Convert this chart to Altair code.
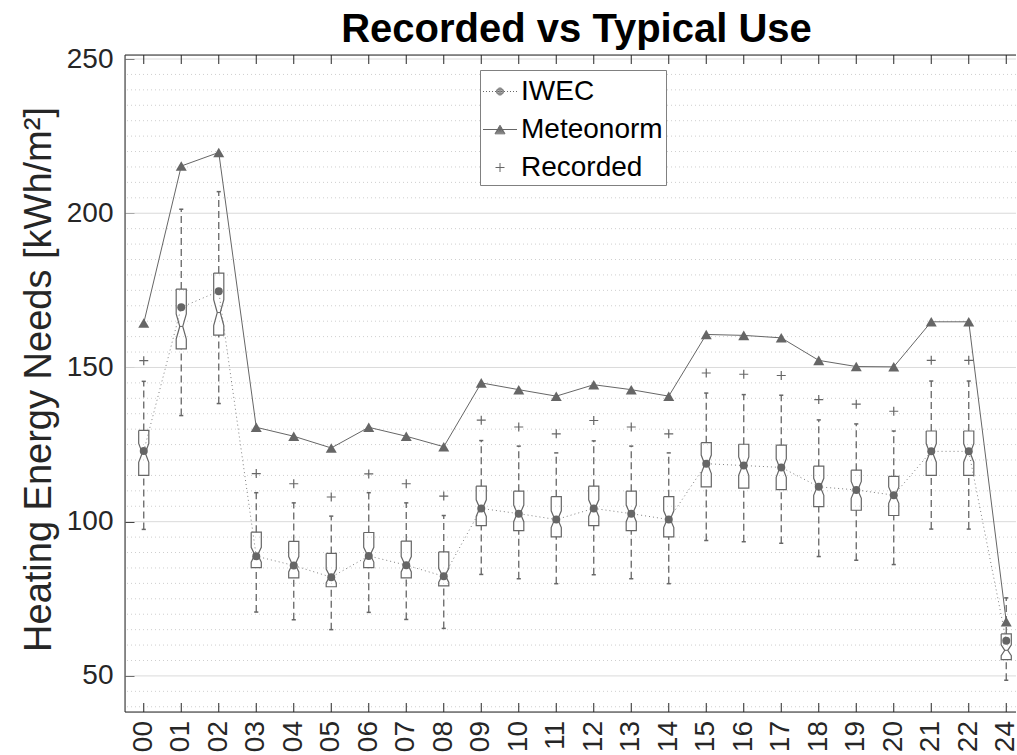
import altair as alt
import pandas as pd
import numpy as np

# ---------------- data ----------------
categories = ["00", "01", "02", "03", "04", "05", "06", "07", "08", "09", "10", "11",
              "12", "13", "14", "15", "16", "17", "18", "19", "20", "21", "22", "24"]

iwec = [122.9, 169.5, 174.7, 88.8, 85.8, 82.0, 88.9, 85.9, 82.3, 104.3, 102.6, 100.7,
        104.3, 102.6, 100.7, 118.8, 118.2, 117.6, 111.3, 110.3, 108.6, 122.8, 122.8, 61.4]
meteonorm = [164.4, 215.3, 219.7, 130.6, 127.7, 123.9, 130.6, 127.7, 124.3, 145.0, 142.8, 140.7,
             144.4, 142.8, 140.7, 160.7, 160.4, 159.6, 152.3, 150.3, 150.2, 164.8, 164.8, 67.6]

rec_q1 = [115.0, 156.0, 160.5, 85.1, 81.8, 78.9, 85.1, 81.8, 79.2, 98.7, 97.1, 95.1,
          98.7, 97.1, 95.1, 111.3, 110.9, 110.4, 104.9, 103.7, 102.0, 115.0, 115.0, 55.3]
rec_med = [122.3, 163.3, 167.8, 89.3, 86.2, 82.4, 89.3, 86.2, 82.6, 104.4, 102.7, 100.8,
           104.4, 102.7, 100.8, 118.6, 118.0, 117.4, 111.3, 110.3, 108.6, 122.3, 122.3, 58.3]
rec_q3 = [129.6, 175.4, 180.6, 96.6, 93.6, 89.7, 96.5, 93.7, 90.2, 111.5, 109.9, 108.1,
          111.5, 109.9, 108.1, 125.6, 125.1, 124.8, 118.0, 116.7, 114.7, 129.4, 129.4, 63.6]
rec_lo = [97.5, 134.4, 138.3, 70.7, 68.2, 65.0, 70.6, 68.3, 65.4, 82.9, 81.5, 79.9,
          82.8, 81.5, 79.9, 93.9, 93.5, 93.0, 88.7, 87.5, 86.1, 97.6, 97.6, 48.6]
rec_hi = [145.5, 201.3, 207.0, 109.4, 106.1, 101.8, 109.4, 106.1, 102.0, 126.3, 124.5, 122.3,
          126.2, 124.5, 122.3, 141.7, 141.2, 141.0, 133.0, 131.7, 129.4, 145.6, 145.6, 75.3]
rec_out = [152.2, None, None, 115.6, 112.3, 108.0, 115.5, 112.3, 108.3, 132.9, 130.7, 128.5,
           132.8, 130.7, 128.5, 148.2, 147.8, 147.4, 139.6, 138.1, 135.8, 152.3, 152.3, None]
n_years = 56  # sample size behind each notch (1.57*IQR/sqrt(n))

y_ticks = [50, 100, 150, 200, 250]
series_names = ["IWEC", "Meteonorm", "Recorded"]

# ---------------- layout / style ----------------
W, H = 891, 657
GREY = "#666666"
AXC = "#262626"
FONT = "Liberation Sans"
HW, NW, CW = 0.135, 0.04, 0.055  # box half width, notch waist, cap half width (x units)

x_scale = alt.Scale(domain=[-0.5, 23.26], nice=False, zero=False)
y_scale = alt.Scale(domain=[38.3, 251.3], nice=False, zero=False)

idx = list(range(len(categories)))
stats = pd.DataFrame({"i": idx, "cat": categories, "q1": rec_q1, "med": rec_med, "q3": rec_q3,
                      "lo": rec_lo, "hi": rec_hi, "iwec": iwec, "met": meteonorm})
stats["cl"] = stats["i"] - CW
stats["cr"] = stats["i"] + CW
stats["ml"] = stats["i"] - NW
stats["mr"] = stats["i"] + NW

# notched box outlines
rows = []
for i, c in enumerate(categories):
    q1, md, q3 = rec_q1[i], rec_med[i], rec_q3[i]
    notch = 1.57 * (q3 - q1) / np.sqrt(n_years)
    nh, nl = min(md + notch, q3), max(md - notch, q1)
    pts = [(-HW, q3), (HW, q3), (HW, nh), (NW, md), (HW, nl), (HW, q1), (-HW, q1),
           (-HW, nl), (-NW, md), (-HW, nh), (-HW, q3)]
    for k, (dx, yy) in enumerate(pts):
        rows.append({"cat": c, "k": k, "x": i + dx, "y": yy})
box_df = pd.DataFrame(rows)

out_df = pd.DataFrame({"i": idx, "v": rec_out}).dropna()

minor = [v for v in range(40, 251, 5) if v % 50]
minor_df = pd.DataFrame({"v": minor})
major_df = pd.DataFrame({"v": y_ticks})

# no axis argument on ordinary layers: explicit settings of the axes layer win the merge
X = lambda f: alt.X(f, scale=x_scale)
Y = lambda f: alt.Y(f, scale=y_scale)

x_axis = alt.Axis(labels=False, ticks=False, domain=False, grid=False, title=None)
y_axis = alt.Axis(values=y_ticks, labelFontSize=28, labelFont=FONT, labelColor=AXC,
                  labelPadding=12, tickSize=9, offset=-9, tickColor=AXC, tickWidth=1,
                  labelOverlap=False, domain=False, grid=False,
                  title="Heating Energy Needs [kWh/m²]",
                  titleFont=FONT, titleFontSize=38, titleFontWeight="normal",
                  titleColor=AXC, titleAngle=270, titleAlign="center",
                  titleBaseline="alphabetic", titleX=-84, titleY=324)
axes_layer = alt.Chart(stats).mark_point(opacity=0, size=1).encode(
    x=alt.X("i:Q", scale=x_scale, axis=x_axis),
    y=alt.Y("iwec:Q", scale=y_scale, axis=y_axis))

# grid
g_minor = alt.Chart(minor_df).mark_rule(color="#cfcfcf", strokeWidth=1, strokeDash=[1, 3]).encode(y=Y("v:Q"))
g_major = alt.Chart(major_df).mark_rule(color="#dadada", strokeWidth=1).encode(y=Y("v:Q"))

# boxes
boxes = alt.Chart(box_df).mark_line(color=GREY, strokeWidth=1.2).encode(
    x=X("x:Q"), y=Y("y:Q"), detail="cat:N", order="k:Q")

base = alt.Chart(stats)
wh_up = base.mark_rule(color=GREY, strokeWidth=1.3, strokeDash=[7, 4]).encode(x=X("i:Q"), y=Y("q3:Q"), y2="hi:Q")
wh_dn = base.mark_rule(color=GREY, strokeWidth=1.3, strokeDash=[7, 4]).encode(x=X("i:Q"), y=Y("lo:Q"), y2="q1:Q")
cap_up = base.mark_rule(color=GREY, strokeWidth=1.5).encode(x=X("cl:Q"), x2="cr:Q", y=Y("hi:Q"))
cap_dn = base.mark_rule(color=GREY, strokeWidth=1.5).encode(x=X("cl:Q"), x2="cr:Q", y=Y("lo:Q"))
med_ln = base.mark_rule(color=GREY, strokeWidth=1).encode(x=X("ml:Q"), x2="mr:Q", y=Y("med:Q"))

outl = alt.Chart(out_df).mark_point(shape="M-1,0H1M0,-1V1", size=81, filled=False,
                                    color=GREY, strokeWidth=1.2, opacity=1).encode(x=X("i:Q"), y=Y("v:Q"))

met_line = base.mark_line(color=GREY, strokeWidth=1).encode(x=X("i:Q"), y=Y("met:Q"))
met_pts = base.mark_point(shape="triangle-up", size=121, filled=True, color=GREY, opacity=1).encode(x=X("i:Q"), y=Y("met:Q"))
iw_line = base.mark_line(color="#808080", strokeWidth=1, strokeDash=[1, 3]).encode(x=X("i:Q"), y=Y("iwec:Q"))
iw_pts = base.mark_point(shape="circle", size=64, filled=True, color=GREY, opacity=1).encode(x=X("i:Q"), y=Y("iwec:Q"))

# frame, inward ticks on top and bottom, category labels
one = pd.DataFrame({"a": [0]})
f_top = alt.Chart(one).mark_rule(color=AXC, strokeWidth=1).encode(y=alt.value(0))
f_bot = alt.Chart(one).mark_rule(color=AXC, strokeWidth=1).encode(y=alt.value(H))
f_left = alt.Chart(one).mark_rule(color=AXC, strokeWidth=1).encode(x=alt.value(0))
top_ticks = base.mark_rule(color=AXC, strokeWidth=1).encode(x=X("i:Q"), y=alt.value(0), y2=alt.value(9))
bot_ticks = base.mark_rule(color=AXC, strokeWidth=1).encode(x=X("i:Q"), y=alt.value(H - 9), y2=alt.value(H))
x_labels = base.mark_text(angle=270, align="right", baseline="middle", font=FONT, fontSize=28,
                          color=AXC).encode(x=X("i:Q"), y=alt.value(H + 9), text="cat:N")

# legend (stroke-only symbols: line + marker, markers filled by nested outlines)
u = 18.0
def dotted(x0, x1, step=3.0, dash=1.0):
    s = ""
    x = x0
    while x < x1:
        s += "M%.3f,0H%.3f" % (x / u, min(x + dash, x1) / u)
        x += step
    return s
mx = -1.5 / u
def disk(rpx):
    s = ""
    for rr in [rpx - 0.5, rpx - 1.5, rpx - 2.5, 0.6]:
        r = rr / u
        s += "M%.3f,0A%.3f,%.3f 0 1,1 %.3f,0A%.3f,%.3f 0 1,1 %.3f,0Z" % (mx + r, r, r, mx - r, r, r, mx + r)
    return s
def tri(hw_px, hh_px):
    s = ""
    for f in [1.0, 0.75, 0.5, 0.25]:
        a, b = hw_px * f / u, hh_px * f / u
        s += "M%.3f,%.3fL%.3f,%.3fL%.3f,%.3fZ" % (mx, -b, mx + a, b, mx - a, b)
    return s
p_iwec = dotted(-18.5, 15.5) + disk(4.0)
p_met = "M%.3f,0H%.3f" % (-18.5 / u, 15.5 / u) + tri(5.0, 4.3)
pr = 4.5 / u
p_rec = "M%.3f,0H%.3fM%.3f,%.3fV%.3f" % (mx - pr, mx + pr, mx, -pr, pr)

leg_df = pd.DataFrame({"series": series_names, "lx": [None] * 3, "ly": [None] * 3})
legend_layer = alt.Chart(leg_df).mark_point(filled=False, color=GREY, strokeWidth=1, opacity=1).encode(
    x=X("lx:Q"), y=Y("ly:Q"),
    shape=alt.Shape("series:N", scale=alt.Scale(domain=series_names, range=[p_iwec, p_met, p_rec]),
                    legend=alt.Legend(title=None, orient="none", legendX=355, legendY=15,
                                      symbolSize=1296, padding=3, rowPadding=5,
                                      labelFontSize=28, labelFont=FONT, labelColor="black",
                                      labelOffset=1, strokeColor="#808080", fillColor="white",
                                      symbolStrokeColor=GREY, symbolStrokeWidth=1)))

chart = alt.layer(
    axes_layer, g_minor, g_major, boxes, wh_up, wh_dn, cap_up, cap_dn, med_ln, outl,
    iw_line, met_line, iw_pts, met_pts, f_top, f_bot, f_left, top_ticks, bot_ticks, x_labels,
    legend_layer
).properties(
    width=W, height=H,
    title=alt.TitleParams("Recorded vs Typical Use", fontSize=40, font=FONT, fontWeight="bold",
                          color="black", anchor="middle", offset=4, dx=6, dy=9),
    autosize=alt.AutoSizeParams(type="none"),
    padding={"left": 125, "top": 55, "right": 0, "bottom": 43},
).configure_view(stroke="transparent").configure(background="white").configure_axis(
    labelOverlap=False, labelFlush=False, grid=False, domain=False
)

chart.save("out.html", embed_options={"renderer": "svg", "actions": False})
